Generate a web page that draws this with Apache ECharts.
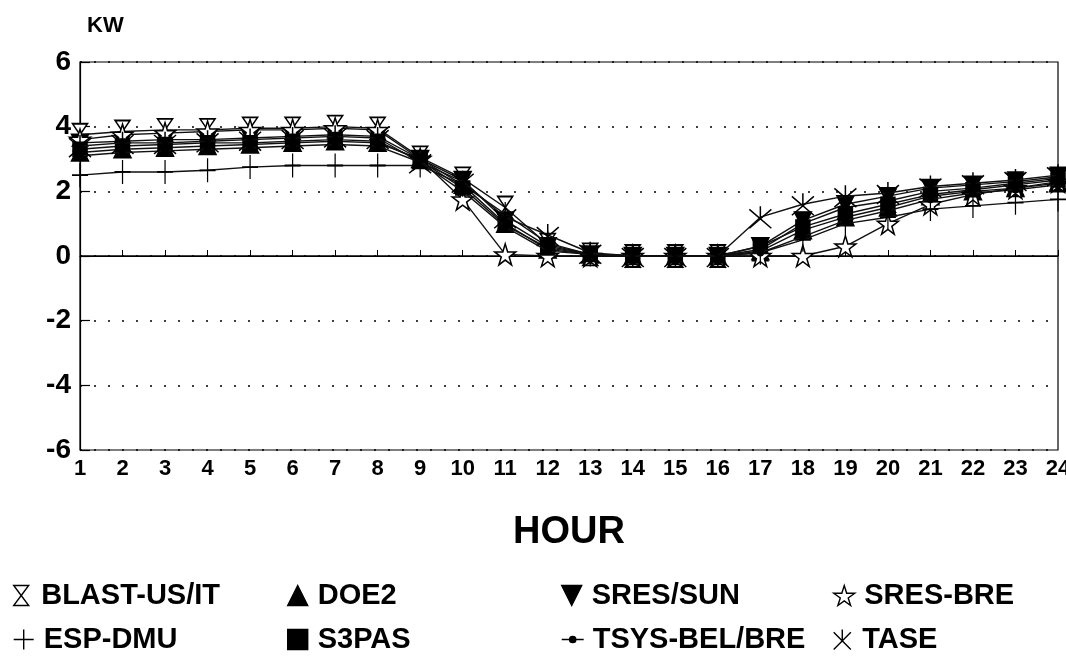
<!DOCTYPE html>
<html>
<head>
<meta charset="utf-8">
<script src="https://cdn.jsdelivr.net/npm/echarts@6/dist/echarts.min.js"></script>
<style>
html,body{margin:0;padding:0;background:#fff;}
#chart{width:1066px;height:660px;}
</style>
</head>
<body>
<div id="chart"></div>
<script>
const hours = ['1','2','3','4','5','6','7','8','9','10','11','12','13','14','15','16','17','18','19','20','21','22','23','24'];
const yTicks = [-6,-4,-2,0,2,4,6];

const blastUsIt = [3.75,3.85,3.9,3.9,3.95,3.95,4.0,3.95,3.05,2.4,1.5,0.35,0.05,0,0,0,0.2,1.0,1.5,1.7,2.0,2.1,2.25,2.4];
const doe2      = [3.2,3.3,3.35,3.4,3.45,3.5,3.55,3.5,3.0,2.2,1.0,0.2,0.05,0,0,0,0.15,0.8,1.2,1.5,1.85,2.0,2.1,2.25];
const sresSun   = [3.5,3.55,3.6,3.6,3.65,3.7,3.75,3.7,3.0,2.35,1.1,0.3,0.05,0,0,0,0.3,1.1,1.6,1.85,2.1,2.2,2.3,2.45];
const sresBre   = [3.6,3.75,3.8,3.85,3.9,3.9,3.95,3.9,3.0,1.75,0.05,0,0,0,0,0,0,0,0.3,1.0,1.6,1.9,2.1,2.3];
const espDmu    = [2.5,2.6,2.6,2.65,2.75,2.8,2.8,2.8,2.8,2.2,1.3,0.4,0.05,0,0,0,0.1,0.5,1.0,1.2,1.45,1.55,1.65,1.75];
const s3pas     = [3.3,3.4,3.45,3.5,3.5,3.55,3.6,3.55,2.95,2.1,0.95,0.25,0.05,0,0,0,0.3,0.9,1.3,1.6,1.9,2.05,2.2,2.35];
const tsysBelBre= [3.1,3.2,3.25,3.3,3.35,3.4,3.45,3.4,2.9,2.0,0.9,0.15,0.05,0,0,0,0.1,0.6,1.1,1.4,1.75,1.95,2.05,2.2];
const tase      = [3.4,3.5,3.5,3.55,3.6,3.65,3.7,3.65,2.9,2.3,1.2,0.65,0.1,0,0,0,1.2,1.6,1.85,1.95,2.15,2.25,2.35,2.5];

const seriesNames = ['BLAST-US/IT','DOE2','SRES/SUN','SRES-BRE','ESP-DMU','S3PAS','TSYS-BEL/BRE','TASE'];
const seriesData = [blastUsIt, doe2, sresSun, sresBre, espDmu, s3pas, tsysBelBre, tase];

const SYM = {
  hourglass: 'path://M0,0 L12,0 L6,8 L12,16 L0,16 L6,8 Z',
  tri: 'path://M6,0 L12,12 L0,12 Z',
  down: 'path://M0,0 L12,0 L6,12 Z',
  star: 'path://M50,0 L61,35 L98,35 L68,57 L79,91 L50,70 L21,91 L32,57 L2,35 L39,35 Z',
  plus: 'path://M6,0 L6,12 M0,6 L12,6',
  square: 'path://M0,0 L12,0 L12,12 L0,12 Z',
  dot: 'circle',
  aster: 'path://M0,2 L12,14 M12,2 L0,14 M6,0 L6,8'
};
const styles = [
  {sym: SYM.hourglass, size:[15,22], fill:'#fff'},
  {sym: SYM.tri, size:[17,17], fill:'#000'},
  {sym: SYM.down, size:[17,17], fill:'#000'},
  {sym: SYM.star, size:[21,21], fill:'#fff'},
  {sym: SYM.plus, size:[16,24], fill:'#000'},
  {sym: SYM.square, size:[14,14], fill:'#000'},
  {sym: SYM.dot, size:[6,6], fill:'#000'},
  {sym: SYM.aster, size:[22,22], fill:'#000'}
];

const FONT = '"Liberation Sans", Arial, sans-serif';

const series = seriesNames.map((n, i) => ({
  name: n,
  type: 'line',
  data: seriesData[i],
  symbol: styles[i].sym,
  symbolSize: styles[i].size,
  showAllSymbol: true,
  lineStyle: {color: '#111', width: 1.4},
  itemStyle: {color: styles[i].fill, borderColor: '#000', borderWidth: 1.5},
  emphasis: {disabled: true},
  animation: false,
  z: 3 + i,
  markLine: i === 0 ? {
    silent: true, symbol: 'none', label: {show: false},
    lineStyle: {color: '#000', width: 1.5, type: 'solid'},
    data: [{yAxis: 0}]
  } : undefined
}));

const legendPos = [
  {left: 8, top: 576}, {left: 282, top: 576}, {left: 556, top: 576}, {left: 828, top: 576},
  {left: 8, top: 620}, {left: 282, top: 620}, {left: 556, top: 620}, {left: 828, top: 620}
];
const legends = seriesNames.map((n, i) => ({
  left: legendPos[i].left, top: legendPos[i].top,
  orient: 'horizontal',
  itemWidth: 22, itemHeight: 20, itemGap: 0,
  selectedMode: false,
  data: [{name: n, icon: styles[i].sym === 'circle' ? 'path://M0,6 L5,6 M9,6 L14,6 M7,4 A2,2 0 1 1 7,8 A2,2 0 1 1 7,4 Z' : styles[i].sym,
          itemStyle: {color: styles[i].fill, borderColor: '#000', borderWidth: 1.4}}],
  textStyle: {fontFamily: FONT, fontWeight: 'bold', fontSize: 29, color: '#000', padding: [0,0,0,4]}
}));

const chart = echarts.init(document.getElementById('chart'), null, {renderer: 'canvas'});
chart.setOption({
  animation: false,
  backgroundColor: '#fff',
  title: {text: 'KW', left: 82, top: 10, textStyle: {fontFamily: FONT, fontWeight: 'bold', fontSize: 22, color: '#000'}},
  legend: legends,
  grid: {left: 80, right: 8, top: 62, bottom: 210, show: true, borderColor: '#000', borderWidth: 1.2, outerBoundsMode: 'none', containLabel: false},
  xAxis: {
    type: 'category',
    data: hours,
    boundaryGap: false,
    name: 'HOUR',
    nameLocation: 'middle',
    nameGap: 64,
    nameTextStyle: {fontFamily: FONT, fontWeight: 'bold', fontSize: 38, color: '#000'},
    axisLine: {lineStyle: {color: '#000', width: 1.2}},
    axisTick: {inside: true, length: 6, lineStyle: {color: '#000'}},
    axisLabel: {fontFamily: FONT, fontWeight: 'bold', fontSize: 22, color: '#000', margin: 8, interval: 0},
    splitLine: {show: false}
  },
  yAxis: {
    type: 'value',
    min: -6, max: 6, interval: 2,
    axisLine: {show: true, lineStyle: {color: '#000', width: 1.2}},
    axisTick: {show: true, inside: true, length: 10, lineStyle: {color: '#000', width: 1.2}},
    axisLabel: {fontFamily: FONT, fontWeight: 'bold', fontSize: 28, color: '#000', margin: 9},
    splitLine: {show: true, lineStyle: {color: '#000', width: 1.5, type: [2, 12]}}
  },
  series: series
});
</script>
</body>
</html>
